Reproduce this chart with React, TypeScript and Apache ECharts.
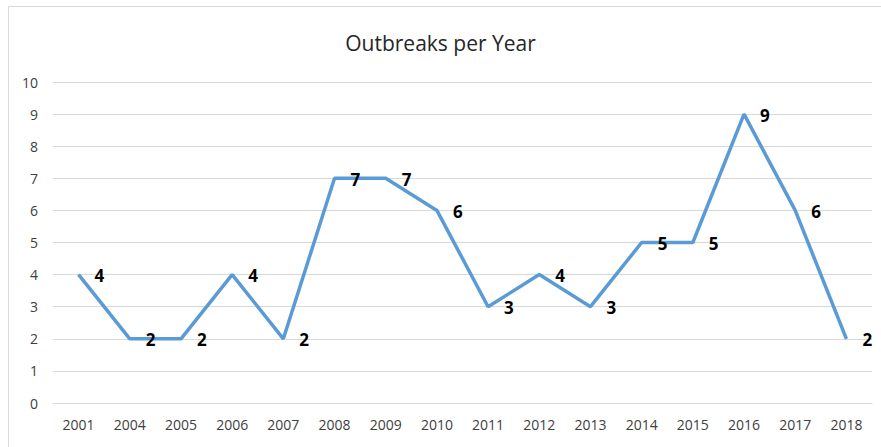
import React, { useEffect, useRef } from "react";
import * as echarts from "echarts";

const categories = ["2001", "2004", "2005", "2006", "2007", "2008", "2009", "2010", "2011", "2012", "2013", "2014", "2015", "2016", "2017", "2018"];
const outbreaks = [4, 2, 2, 4, 2, 7, 7, 6, 3, 4, 3, 5, 5, 9, 6, 2];
const titleText = "Outbreaks per Year";

export default function App() {
  const ref = useRef<HTMLDivElement>(null);
  useEffect(() => {
    if (!ref.current) return;
    const chart = echarts.init(ref.current, null, { renderer: "svg" });
    chart.setOption({
      animation: false,
      backgroundColor: "#ffffff",
      textStyle: { fontFamily: "Open Sans" },
      graphic: [
        {
          type: "rect",
          shape: { x: 8.5, y: 6.5, width: 1000, height: 1000 },
          style: { fill: "none", stroke: "#d9d9d9", lineWidth: 1 },
          silent: true,
          z: -10,
        },
      ],
      title: {
        text: titleText,
        left: "center",
        top: 27,
        textStyle: { fontFamily: "Open Sans", fontSize: 21, fontWeight: "normal", color: "#262626" },
      },
      grid: { left: 53, right: 9, top: 82, bottom: 44, containLabel: false },
      xAxis: {
        type: "category",
        data: categories,
        boundaryGap: true,
        axisLine: { show: true, lineStyle: { color: "#d9d9d9", width: 1 } },
        axisTick: { show: false },
        axisLabel: { color: "#404040", fontSize: 14, margin: 14, fontFamily: "Open Sans" },
      },
      yAxis: {
        type: "value",
        min: 0,
        max: 10,
        interval: 1,
        axisLine: { show: false },
        axisTick: { show: false },
        axisLabel: { color: "#404040", fontSize: 14, margin: 15, fontFamily: "Open Sans" },
        splitLine: { show: true, lineStyle: { color: "#d9d9d9", width: 1 } },
      },
      series: [
        {
          type: "line",
          data: outbreaks,
          showSymbol: true,
          symbol: "circle",
          symbolSize: 0,
          lineStyle: { color: "#5B9BD5", width: 3.5 },
          itemStyle: { color: "#5B9BD5" },
          label: {
            show: true,
            position: "right",
            distance: 16,
            offset: [0, 1],
            color: "#000000",
            fontSize: 17,
            fontWeight: "bold",
            fontFamily: "Open Sans",
          },
        },
      ],
    });
    return () => chart.dispose();
  }, []);
  return <div ref={ref} style={{ position: "fixed", left: 0, top: 0, width: 881, height: 447 }} />;
}
